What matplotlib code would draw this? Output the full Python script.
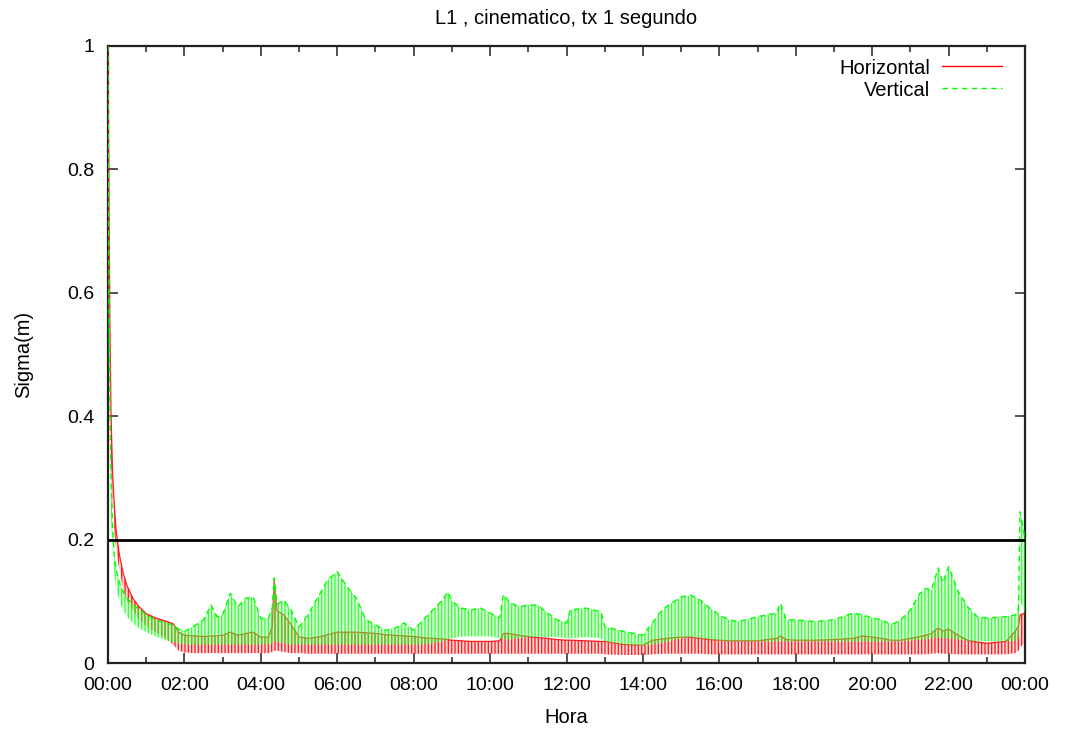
import matplotlib
matplotlib.use("Agg")
import matplotlib.pyplot as plt
from matplotlib.ticker import MultipleLocator

# ---- data ----
hours = [0.00, 0.02, 0.05, 0.08, 0.12, 0.17, 0.22, 0.30, 0.40, 0.50, 0.65, 0.80,
         1.00, 1.25, 1.50, 1.70, 1.85, 2.00, 2.25, 2.50, 2.70, 2.85, 3.00, 3.20,
         3.40, 3.60, 3.80, 4.00, 4.20, 4.30, 4.35, 4.42, 4.60, 4.80, 5.00, 5.25,
         5.50, 5.75, 6.00, 6.25, 6.50, 6.75, 7.00, 7.25, 7.50, 7.75, 8.00, 8.25,
         8.50, 8.75, 8.90, 9.00, 9.25, 9.50, 9.75, 10.00, 10.25, 10.35, 10.50, 10.75,
         11.00, 11.25, 11.50, 11.75, 12.00, 12.10, 12.50, 12.90, 13.00, 13.50, 14.00, 14.25,
         14.50, 14.75, 15.00, 15.25, 15.50, 15.75, 16.00, 16.25, 16.50, 17.00, 17.50, 17.60,
         17.75, 18.00, 18.50, 19.00, 19.50, 19.75, 20.00, 20.25, 20.50, 20.75, 21.00, 21.25,
         21.40, 21.55, 21.73, 21.85, 22.00, 22.25, 22.50, 22.75, 23.00, 23.50, 23.75, 23.83,
         23.87, 23.95, 24.00]

# Vertical sigma: upper / lower envelope of the oscillating trace
vert_high = [1.000, 0.650, 0.420, 0.300, 0.220, 0.170, 0.150, 0.130, 0.115, 0.105, 0.095, 0.088,
             0.078, 0.070, 0.065, 0.062, 0.055, 0.051, 0.060, 0.070, 0.094, 0.075, 0.078, 0.113,
             0.091, 0.105, 0.107, 0.072, 0.073, 0.090, 0.138, 0.095, 0.102, 0.085, 0.058, 0.080,
             0.107, 0.135, 0.148, 0.124, 0.105, 0.070, 0.062, 0.053, 0.056, 0.065, 0.053, 0.070,
             0.086, 0.102, 0.115, 0.100, 0.089, 0.086, 0.089, 0.081, 0.073, 0.111, 0.099, 0.091,
             0.094, 0.094, 0.081, 0.070, 0.065, 0.086, 0.089, 0.083, 0.059, 0.051, 0.045, 0.065,
             0.086, 0.097, 0.107, 0.110, 0.102, 0.089, 0.078, 0.070, 0.067, 0.075, 0.081, 0.097,
             0.070, 0.070, 0.067, 0.070, 0.081, 0.078, 0.073, 0.070, 0.062, 0.070, 0.086, 0.113,
             0.121, 0.118, 0.154, 0.130, 0.156, 0.116, 0.091, 0.075, 0.073, 0.075, 0.078, 0.090,
             0.245, 0.220, 0.200]
vert_low = [1.000, 0.500, 0.320, 0.240, 0.180, 0.140, 0.120, 0.100, 0.085, 0.075, 0.065, 0.057,
            0.050, 0.043, 0.037, 0.034, 0.032, 0.030, 0.030, 0.030, 0.030, 0.030, 0.030, 0.030,
            0.030, 0.030, 0.030, 0.030, 0.030, 0.032, 0.035, 0.035, 0.032, 0.030, 0.030, 0.030,
            0.030, 0.030, 0.030, 0.030, 0.030, 0.030, 0.030, 0.030, 0.030, 0.030, 0.030, 0.030,
            0.032, 0.035, 0.038, 0.040, 0.043, 0.043, 0.043, 0.043, 0.040, 0.038, 0.038, 0.040,
            0.042, 0.042, 0.042, 0.042, 0.040, 0.040, 0.042, 0.040, 0.035, 0.030, 0.028, 0.030,
            0.033, 0.036, 0.040, 0.042, 0.040, 0.038, 0.036, 0.035, 0.035, 0.035, 0.035, 0.036,
            0.035, 0.035, 0.035, 0.035, 0.035, 0.035, 0.035, 0.035, 0.035, 0.035, 0.036, 0.038,
            0.038, 0.040, 0.042, 0.040, 0.040, 0.038, 0.036, 0.035, 0.035, 0.035, 0.036, 0.040,
            0.100, 0.090, 0.080]

# Horizontal sigma: upper / lower envelope
horiz_high = [1.000, 0.800, 0.550, 0.400, 0.310, 0.250, 0.210, 0.175, 0.145, 0.125, 0.105, 0.092,
              0.080, 0.073, 0.068, 0.064, 0.050, 0.045, 0.044, 0.043, 0.044, 0.044, 0.045, 0.050,
              0.045, 0.048, 0.050, 0.042, 0.042, 0.060, 0.135, 0.085, 0.078, 0.062, 0.042, 0.040,
              0.042, 0.046, 0.050, 0.050, 0.050, 0.049, 0.048, 0.046, 0.045, 0.044, 0.043, 0.041,
              0.040, 0.039, 0.038, 0.037, 0.036, 0.035, 0.035, 0.035, 0.036, 0.048, 0.048, 0.045,
              0.043, 0.041, 0.040, 0.038, 0.037, 0.037, 0.036, 0.035, 0.035, 0.030, 0.029, 0.037,
              0.039, 0.041, 0.042, 0.042, 0.040, 0.038, 0.037, 0.036, 0.036, 0.036, 0.040, 0.044,
              0.038, 0.037, 0.037, 0.038, 0.040, 0.044, 0.042, 0.040, 0.037, 0.037, 0.040, 0.043,
              0.045, 0.048, 0.057, 0.052, 0.055, 0.045, 0.037, 0.034, 0.032, 0.035, 0.052, 0.060,
              0.078, 0.080, 0.080]
horiz_low = [1.000, 0.700, 0.450, 0.330, 0.260, 0.210, 0.180, 0.150, 0.120, 0.100, 0.085, 0.072,
             0.060, 0.050, 0.040, 0.030, 0.020, 0.017, 0.016, 0.016, 0.016, 0.016, 0.016, 0.016,
             0.016, 0.016, 0.016, 0.016, 0.016, 0.018, 0.020, 0.020, 0.018, 0.016, 0.016, 0.015,
             0.015, 0.015, 0.015, 0.015, 0.015, 0.015, 0.015, 0.015, 0.015, 0.015, 0.015, 0.015,
             0.015, 0.015, 0.015, 0.015, 0.015, 0.015, 0.015, 0.015, 0.015, 0.015, 0.015, 0.015,
             0.015, 0.015, 0.015, 0.015, 0.015, 0.015, 0.015, 0.015, 0.014, 0.013, 0.013, 0.014,
             0.015, 0.015, 0.015, 0.015, 0.015, 0.014, 0.014, 0.014, 0.014, 0.014, 0.014, 0.014,
             0.014, 0.014, 0.014, 0.014, 0.014, 0.014, 0.014, 0.014, 0.014, 0.014, 0.014, 0.014,
             0.014, 0.015, 0.016, 0.015, 0.015, 0.014, 0.014, 0.014, 0.014, 0.014, 0.016, 0.020,
             0.025, 0.030, 0.030]

threshold = 0.2
xtick_hours = [0, 2, 4, 6, 8, 10, 12, 14, 16, 18, 20, 22, 24]
xtick_labels = ["00:00", "02:00", "04:00", "06:00", "08:00", "10:00", "12:00",
                "14:00", "16:00", "18:00", "20:00", "22:00", "00:00"]
ytick_values = [0, 0.2, 0.4, 0.6, 0.8, 1]
ytick_labels = ["0", "0.2", "0.4", "0.6", "0.8", "1"]

# ---- style ----
plt.rcParams['font.family'] = ['Liberation Sans', 'DejaVu Sans']
plt.rcParams['hatch.linewidth'] = 1.0
FS_TICK = 14
FS_TXT = 14.5

RED = '#ff0000'
GREEN = '#00ff00'

fig = plt.figure(figsize=(10.65, 7.30), dpi=100)
ax = fig.add_axes([108 / 1065, 67 / 730, 917 / 1065, 617 / 730])

# Horizontal (red) band
ax.fill_between(hours, horiz_low, horiz_high, facecolor=(1, 0.6, 0.6, 0.35),
                edgecolor=(1, 0, 0, 0.85), hatch='|||||', linewidth=0, zorder=2)
ax.plot(hours, horiz_high, color=RED, lw=0.9, alpha=0.85, zorder=3)

# Vertical (green) band
ax.fill_between(hours, vert_low, vert_high, facecolor=(0.6, 1, 0.6, 0.3),
                edgecolor=(0, 1, 0, 0.75), hatch='|||||', linewidth=0, zorder=4)
ax.plot(hours, vert_high, color=GREEN, lw=1.0, ls=(0, (4, 3)), zorder=5)

# threshold line
ax.axhline(threshold, color='black', lw=2.0, zorder=6)

ax.set_xlim(0, 24)
ax.set_ylim(0, 1)
ax.set_xticks(xtick_hours)
ax.set_xticklabels(xtick_labels)
ax.xaxis.set_minor_locator(MultipleLocator(1))
ax.set_yticks(ytick_values)
ax.set_yticklabels(ytick_labels)

ax.tick_params(which='both', direction='in', top=True, right=True,
               labelsize=FS_TICK, color='#333333', width=1.2)
ax.tick_params(which='major', length=7)
ax.tick_params(which='minor', length=4)
ax.tick_params(axis='x', pad=10)
ax.tick_params(axis='y', pad=10)
for s in ax.spines.values():
    s.set_linewidth(1.6)
    s.set_color('#222222')

ax.set_title("L1 , cinematico, tx 1 segundo", fontsize=FS_TXT, pad=16)
ax.set_xlabel("Hora", fontsize=FS_TXT, labelpad=10)
ax.set_ylabel("Sigma(m)", fontsize=FS_TXT, labelpad=24)

# legend (gnuplot style: right-aligned text, sample to the right)
leg_x_text = 0.8964
leg_x0, leg_x1 = 0.9095, 0.975
ax.text(leg_x_text, 0.9630, "Horizontal", transform=ax.transAxes,
        ha='right', va='center', fontsize=FS_TXT, zorder=7)
ax.plot([leg_x0, leg_x1], [0.9676, 0.9676], transform=ax.transAxes,
        color=RED, lw=1.0, zorder=7)
ax.text(leg_x_text, 0.9273, "Vertical", transform=ax.transAxes,
        ha='right', va='center', fontsize=FS_TXT, zorder=7)
ax.plot([leg_x0, leg_x1], [0.9319, 0.9319], transform=ax.transAxes,
        color=GREEN, lw=1.0, ls=(0, (4, 3)), zorder=7)

fig.savefig("out.png", dpi=100)
